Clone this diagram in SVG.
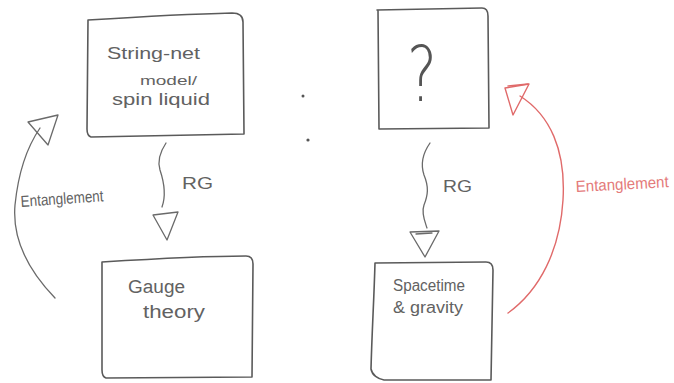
<svg xmlns="http://www.w3.org/2000/svg" width="674" height="383" viewBox="0 0 674 383">
  <style>
    .box { fill: none; stroke: #5a5a5a; stroke-width: 1.6; stroke-linejoin: round; stroke-linecap: round; }
    .ink { fill: none; stroke: #6a6a6a; stroke-width: 1.3; stroke-linecap: round; stroke-linejoin: round; }
    .red { fill: none; stroke: #e06a6a; stroke-width: 1.4; stroke-linecap: round; stroke-linejoin: round; }
    .lbl { font-family: "Liberation Sans", "DejaVu Sans", sans-serif; font-size: 15px; fill: #626262; }
    .lblr { font-family: "Liberation Sans", "DejaVu Sans", sans-serif; font-size: 14px; fill: #e47a7a; }
  </style>
  <rect width="674" height="383" fill="#ffffff"/>

  <g id="string-net">
    <path class="box" d="M88,20 C120,18 190,14 232,13 C240,13 243,16 243,22 L244,134 L91,137 C88,136 87,133 87,129 Z"/>
    <text class="lbl" x="107" y="59" style="font-size:17px" textLength="93" lengthAdjust="spacingAndGlyphs">String-net</text>
    <text class="lbl" x="140" y="85" style="font-size:13px" textLength="57" lengthAdjust="spacingAndGlyphs">model/</text>
    <text class="lbl" x="112" y="105" style="font-size:16px" textLength="98" lengthAdjust="spacingAndGlyphs">spin liquid</text>
  </g>

  <g id="unknown">
    <path class="box" d="M377,10 L482,8 C486,8 488,11 488,16 L489,128 L379,129 L378,10 Z"/>
    <text class="lbl" x="422" y="101" style="font-size:76px; font-family:'DejaVu Sans', sans-serif; font-weight:200; fill:#555" text-anchor="middle" textLength="30" lengthAdjust="spacingAndGlyphs">?</text>
  </g>

  <g id="gauge">
    <path class="box" d="M102,262 C150,259 210,256 246,256 C251,256 253,259 253,264 L252,377 L106,378 C103,377 102,374 102,370 Z"/>
    <text class="lbl" x="128" y="293" style="font-size:18px" textLength="57" lengthAdjust="spacingAndGlyphs">Gauge</text>
    <text class="lbl" x="143" y="318" style="font-size:18px" textLength="62" lengthAdjust="spacingAndGlyphs">theory</text>
  </g>

  <g id="spacetime">
    <path class="box" d="M375,263 L486,262 C491,262 493,265 493,270 L491,380 L384,380 C378,379 372,375 371,369 C372,330 374,300 375,263 Z"/>
    <text class="lbl" x="393" y="291" style="font-size:16px" textLength="72" lengthAdjust="spacingAndGlyphs">Spacetime</text>
    <text class="lbl" x="393" y="313" style="font-size:16px" textLength="70" lengthAdjust="spacingAndGlyphs">&amp; gravity</text>
  </g>

  <g id="dots" fill="#555">
    <circle cx="303" cy="96" r="1.5"/>
    <circle cx="308" cy="140" r="1.6"/>
  </g>

  <g id="connectors">
    <!-- RG flow, left column -->
    <path class="ink" d="M166,143 C160,152 157,160 160,170 C164,182 166,196 162,207"/>
    <path class="ink" d="M153,215 L178,212 L167,240 Z"/>
    <text class="lbl" x="182" y="189" style="font-size:17px" textLength="31" lengthAdjust="spacingAndGlyphs">RG</text>

    <!-- RG flow, right column -->
    <path class="ink" d="M430,143 C423,153 420,163 424,175 C429,187 428,195 424,205 C421,213 425,222 427,228"/>
    <path class="ink" d="M410,232 L439,231 L425,257 Z M416,234 L432,233"/>
    <text class="lbl" x="443" y="192" style="font-size:17px" textLength="29" lengthAdjust="spacingAndGlyphs">RG</text>

    <!-- entanglement, left -->
    <path class="ink" d="M55,298 C28,270 12,240 15,205 C18,175 25,150 40,128"/>
    <path class="ink" d="M28,122 L58,115 L48,145 Z"/>
    <text class="lbl" x="21" y="207" style="font-size:16px" textLength="83" lengthAdjust="spacingAndGlyphs" transform="rotate(-4 21 207)">Entanglement</text>

    <!-- entanglement, right (red) -->
    <path class="red" d="M508,313 C540,290 560,250 563,200 C566,150 550,115 520,96"/>
    <path class="red" d="M505,88 L529,84 L513,115 Z"/>
    <path class="red" d="M508,86 L528,84" stroke-width="2.6"/>
    <text class="lblr" x="576" y="192" style="font-size:16px" textLength="93" lengthAdjust="spacingAndGlyphs" transform="rotate(-3 576 192)">Entanglement</text>
  </g>
</svg>
